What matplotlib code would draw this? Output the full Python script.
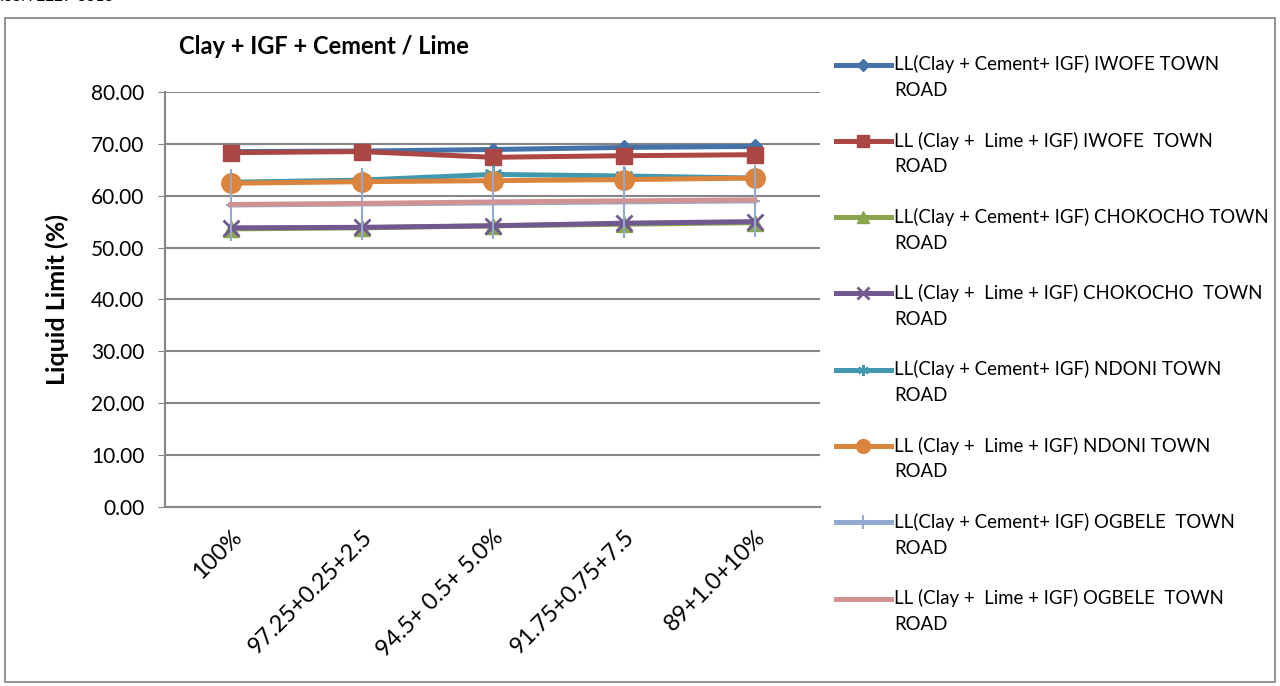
import matplotlib
matplotlib.use("Agg")
import numpy as np
import matplotlib.pyplot as plt
from matplotlib.path import Path
from matplotlib.patches import Rectangle
from matplotlib.transforms import ScaledTranslation
from matplotlib.legend_handler import HandlerLine2D

plt.rcParams['font.family'] = ['Lato', 'DejaVu Sans']

# mix ratios (clay + IGF + cement/lime)
mixes = ["100%", "97.25+0.25+2.5", "94.5+ 0.5+ 5.0%", "91.75+0.75+7.5", "89+1.0+10%"]

iwofe_cement = [68.5, 68.6, 68.9, 69.3, 69.5]
iwofe_lime = [68.3, 68.5, 67.4, 67.7, 67.9]
chokocho_cement = [53.6, 53.8, 54.2, 54.5, 54.8]
chokocho_lime = [53.8, 53.9, 54.2, 54.7, 55.0]
ndoni_cement = [62.6, 63.0, 64.1, 63.8, 63.4]
ndoni_lime = [62.4, 62.7, 62.9, 63.1, 63.4]
ogbele_cement = [58.2, 58.4, 58.6, 58.8, 59.0]
ogbele_lime = [58.3, 58.5, 58.8, 59.0, 59.2]

labels = [
    "LL(Clay + Cement+ IGF) IWOFE TOWN\nROAD",
    "LL (Clay +  Lime + IGF) IWOFE  TOWN\nROAD",
    "LL(Clay + Cement+ IGF) CHOKOCHO TOWN\nROAD",
    "LL (Clay +  Lime + IGF) CHOKOCHO  TOWN\nROAD",
    "LL(Clay + Cement+ IGF) NDONI TOWN\nROAD",
    "LL (Clay +  Lime + IGF) NDONI TOWN\nROAD",
    "LL(Clay + Cement+ IGF) OGBELE  TOWN\nROAD",
    "LL (Clay +  Lime + IGF) OGBELE  TOWN\nROAD",
]


class FirstLineHandler(HandlerLine2D):
    # puts the legend key next to the first line of a two-line label
    def create_artists(self, legend, orig_handle, xdescent, ydescent, width, height, fontsize, trans):
        arts = super().create_artists(legend, orig_handle, xdescent, ydescent,
                                      width, height, fontsize, trans)
        for a in arts:
            a.set_ydata(np.asarray(a.get_ydata()) + 9.4)
        return arts


# tall thin plus marker, like the excel one
tall_plus = Path([(0, -1), (0, 1), (-0.15, 0), (0.15, 0)],
                 [Path.MOVETO, Path.LINETO, Path.MOVETO, Path.LINETO])

fig = plt.figure(figsize=(12.8, 6.86), dpi=100)
ax = fig.add_axes([0.129, 0.261, 0.5118, 0.605])

x = range(len(mixes))
lw = 3.6
ax.plot(x, iwofe_cement, color="#4572A7", lw=lw, marker="D", ms=7, label=labels[0])
ax.plot(x, iwofe_lime, color="#AA4643", lw=lw, marker="s", ms=12, label=labels[1])
ax.plot(x, chokocho_cement, color="#89A54E", lw=lw, marker="^", ms=11, label=labels[2])
ax.plot(x, chokocho_lime, color="#71588F", lw=lw, marker="x", ms=11, mew=2, label=labels[3])
ax.plot(x, ndoni_cement, color="#4198AF", lw=lw, marker=(6, 2, 0), ms=13, mew=1.5, label=labels[4])
ax.plot(x, ndoni_lime, color="#DB843D", lw=lw, marker="o", ms=14, label=labels[5])
ax.plot(x, ogbele_cement, color="#93A9CF", lw=lw, marker=tall_plus, ms=52, mew=1.5,
        mfc="none", mec="#93A9CF", label=labels[6])
ax.plot(x, ogbele_lime, color="#D19392", lw=lw, label=labels[7])

ax.set_xlim(-0.5, len(mixes) - 0.5)
ax.set_ylim(0, 80)
ax.set_yticks(range(0, 81, 10))
ax.set_yticklabels([f"{v:.2f}" for v in range(0, 81, 10)], fontsize=15)
ax.set_xticks(list(x))
ax.set_xticklabels(mixes, fontsize=16.8, rotation=45, ha="right", rotation_mode="anchor")
shift = ScaledTranslation(-7 / 72, 0, fig.dpi_scale_trans)
for lbl in ax.get_xticklabels():
    lbl.set_transform(lbl.get_transform() + shift)
ax.tick_params(axis="x", length=0, pad=14)
ax.tick_params(axis="y", length=5, color="#868686", pad=10)
ax.yaxis.grid(True, color="#868686", lw=1.5)
ax.set_axisbelow(True)
for s in ["top", "right"]:
    ax.spines[s].set_visible(False)
for s in ["left", "bottom"]:
    ax.spines[s].set_color("#868686")
    ax.spines[s].set_linewidth(1.5)
ax.set_ylabel("Liquid Limit (%)", fontsize=18, fontweight="bold", labelpad=16)

fig.text(0.14, 0.932, "Clay + IGF + Cement / Lime", fontsize=17, fontweight="bold", va="center")
fig.text(0.0, 1.005, "ISSN 2229-5518", fontsize=11, va="center")

leg = fig.legend(loc="upper left", bbox_to_anchor=(0.6457, 0.933), frameon=False, borderpad=0,
                 fontsize=13.4, handlelength=2.95, handletextpad=0.2, labelspacing=1.74,
                 handler_map={plt.Line2D: FirstLineHandler()})
for t in leg.get_texts():
    t.set_linespacing(1.63)
# smaller markers in the legend keys
legend_ms = [6, 9, 8, 8, 8, 10, 10, 0]
for h, m in zip(leg.legend_handles, legend_ms):
    h.set_markersize(m)

fig.patches.append(Rectangle((0.004, 0.006), 0.992, 0.968, transform=fig.transFigure,
                             fill=False, edgecolor="#7f7f7f", lw=1.2))

fig.savefig("out.png", dpi=100)
